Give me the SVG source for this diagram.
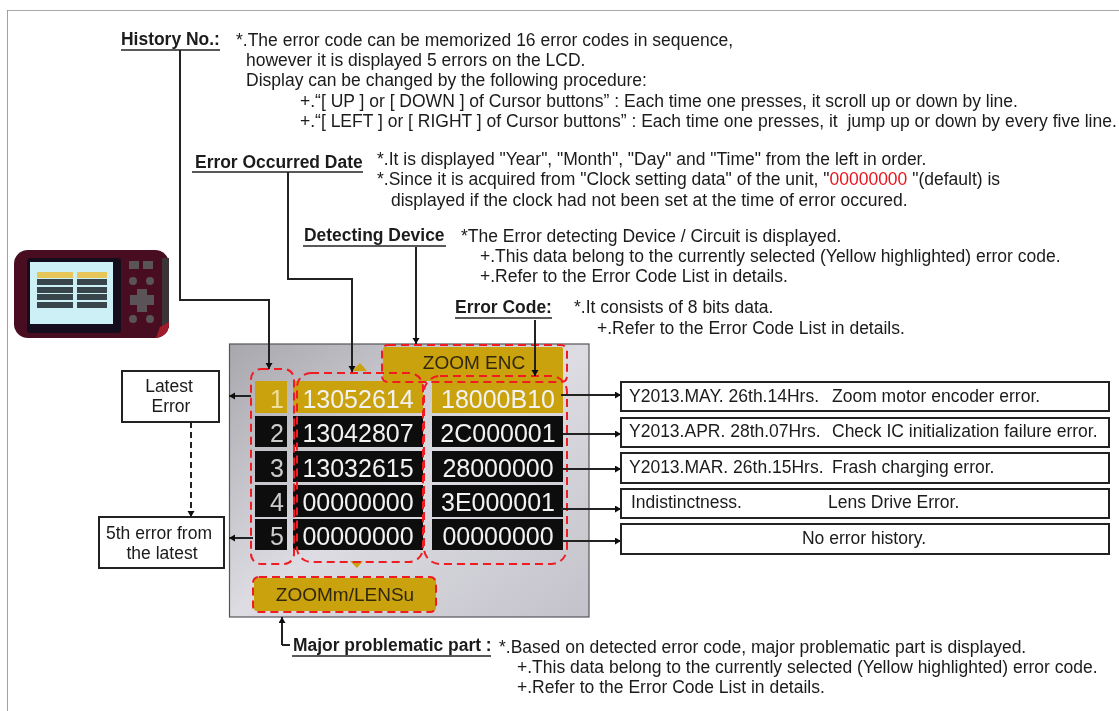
<svg xmlns="http://www.w3.org/2000/svg" width="1119" height="711" viewBox="0 0 1119 711">
<style>
text{font-family:"Liberation Sans",Arial,sans-serif;fill:#1a1a1a;white-space:pre}
.d{font-size:17.5px}
.h{font-size:17.45px;font-weight:bold}
.u{stroke:#222;stroke-width:1.6;fill:none}
.c{stroke:#222;stroke-width:2;fill:none}
.ca{stroke:#222;stroke-width:2;fill:none;marker-end:url(#ah)}
.b{fill:#fff;stroke:#222;stroke-width:2}
.bt{font-size:17.5px}
.cell{fill:#111}
.gold{fill:#c9a20f}
.n{font-size:25px;fill:#f2f2f2;text-anchor:middle}
.r{fill:none;stroke:#f01c24;stroke-width:2;stroke-dasharray:8 5}
.g{font-size:19px;fill:#33280a;text-anchor:middle}
.btn{fill:#5a5258}
</style>
<defs>
<marker id="ah" markerUnits="userSpaceOnUse" markerWidth="9" markerHeight="9" refX="6" refY="3.5" orient="auto"><path d="M0 0L6 3.5L0 7Z" fill="#111"/></marker>
<linearGradient id="panel" x1="0" y1="0" x2="1" y2="1"><stop offset="0" stop-color="#a9a7ae"/><stop offset=".5" stop-color="#dcdce2"/><stop offset="1" stop-color="#c3c2ca"/></linearGradient>
<filter id="soft" x="0" y="0" width="100%" height="100%"><feGaussianBlur stdDeviation="0.4"/></filter>
<filter id="softer" x="-5%" y="-5%" width="110%" height="110%"><feGaussianBlur stdDeviation="0.7"/></filter>
</defs>
<rect width="1119" height="711" fill="#fff"/>
<g filter="url(#soft)">
<path d="M7 711V10H1119" fill="none" stroke="#8a8a8a" stroke-width="1.6"/>

<g id="camera" filter="url(#softer)">
<rect x="14" y="250" width="155" height="88" rx="14" fill="#4a1020"/>
<rect x="162" y="258" width="7" height="70" fill="#3a3438"/>
<path d="M169 322L169 326Q168 336 156 338L160 327Z" fill="#a01c2c"/>
<rect x="27" y="258" width="94" height="75" rx="3" fill="#16101a"/>
<rect x="30" y="262" width="83" height="62" fill="#cdeff6"/>
<rect x="37" y="272" width="36" height="6" fill="#e6c65a"/><rect x="77" y="272" width="30" height="6" fill="#e6c65a"/>
<g fill="#39444c"><rect x="37" y="279" width="36" height="6"/><rect x="77" y="279" width="30" height="6"/><rect x="37" y="287" width="36" height="6"/><rect x="77" y="287" width="30" height="6"/><rect x="37" y="294" width="36" height="6"/><rect x="77" y="294" width="30" height="6"/><rect x="37" y="302" width="36" height="6"/><rect x="77" y="302" width="30" height="6"/></g>
<rect class="btn" x="129" y="261" width="10" height="8"/><rect class="btn" x="143" y="261" width="10" height="8"/>
<circle class="btn" cx="133" cy="281" r="4"/><circle class="btn" cx="150" cy="281" r="4"/>
<path class="btn" d="M130 295h7v-6h10v6h7v10h-7v7h-10v-7h-7z"/>
<circle class="btn" cx="133" cy="319" r="4"/><circle class="btn" cx="150" cy="319" r="4"/>
</g>

<g id="screen">
<rect x="229.5" y="344" width="359.5" height="273" fill="url(#panel)" stroke="#55555a" stroke-width="1.2"/>
<rect class="gold" x="383" y="347" width="180" height="34" rx="2"/>
<text class="g" x="474" y="369">ZOOM ENC</text>
<path class="gold" d="M352 371L360 363L367 371Z"/>
<path class="gold" d="M350 561H363L357 568Z"/>
<rect class="gold" x="254" y="578" width="182" height="33" rx="3"/>
<text class="g" x="345" y="601">ZOOMm/LENSu</text>
<rect class="gold" x="255" y="381" width="32" height="32"/>
<rect class="gold" x="293" y="381" width="130" height="32"/>
<rect class="gold" x="432" y="381" width="131" height="32"/>
<g class="cell">
<rect x="255" y="416" width="32" height="31"/><rect x="293" y="416" width="130" height="31"/><rect x="432" y="416" width="131" height="31"/>
<rect x="255" y="451" width="32" height="31"/><rect x="293" y="451" width="130" height="31"/><rect x="432" y="451" width="131" height="31"/>
<rect x="255" y="485" width="32" height="32"/><rect x="293" y="485" width="130" height="32"/><rect x="432" y="485" width="131" height="32"/>
<rect x="255" y="519" width="32" height="31"/><rect x="293" y="519" width="130" height="31"/><rect x="432" y="519" width="131" height="31"/>
</g>
<text class="n" x="277" y="408" style="fill:#f0e0a0">1</text><text class="n" x="358" y="408">13052614</text><text class="n" x="498" y="408">18000B10</text>
<text class="n" x="277" y="442" style="fill:#ccc">2</text><text class="n" x="358" y="442">13042807</text><text class="n" x="498" y="442">2C000001</text>
<text class="n" x="277" y="477" style="fill:#ccc">3</text><text class="n" x="358" y="477">13032615</text><text class="n" x="498" y="477">28000000</text>
<text class="n" x="277" y="511" style="fill:#ccc">4</text><text class="n" x="358" y="511">00000000</text><text class="n" x="498" y="511">3E000001</text>
<text class="n" x="277" y="545" style="fill:#ccc">5</text><text class="n" x="358" y="545">00000000</text><text class="n" x="498" y="545">00000000</text>
<rect class="r" x="251" y="369" width="43" height="195" rx="10"/>
<rect class="r" x="297" y="373" width="126" height="189" rx="14"/>
<rect class="r" x="424" y="376" width="143" height="188" rx="16"/>
<rect class="r" x="382" y="345" width="185" height="37" rx="6"/>
<rect class="r" x="253" y="577" width="183" height="35" rx="6"/>
</g>

<g id="connectors">
<path class="ca" d="M180 50V300H269V369"/>
<path class="ca" d="M288 172V279H352V372"/>
<path class="ca" d="M416 247V344"/>
<path class="ca" d="M535 320V376"/>
<path class="ca" d="M251 396H229"/>
<path class="ca" d="M253 538H229"/>
<path class="ca" d="M191 422V517" stroke-dasharray="6 4"/>
<path class="ca" d="M561 395H621"/>
<path class="ca" d="M563 434H621"/>
<path class="ca" d="M563 469H621"/>
<path class="ca" d="M561 509H621"/>
<path class="ca" d="M562 541H621"/>
<path class="ca" d="M282 645V617"/>
<path class="c" d="M282 645H290"/>
</g>

<g id="history-no">
<text class="h" x="121" y="45">History No.:</text><path class="u" d="M121 50H220"/>
<text class="d" x="236" y="46">*.The error code can be memorized 16 error codes in sequence,</text>
<text class="d" x="246" y="66">however it is displayed 5 errors on the LCD.</text>
<text class="d" x="246" y="86">Display can be changed by the following procedure:</text>
<text class="d" x="300" y="107">+.“[ UP ] or [ DOWN ] of Cursor buttons” : Each time one presses, it scroll up or down by line.</text>
<text class="d" x="300" y="127">+.“[ LEFT ] or [ RIGHT ] of Cursor buttons” : Each time one presses, it  jump up or down by every five line.</text>
</g>
<g id="error-occurred-date">
<text class="h" x="195" y="168">Error Occurred Date</text><path class="u" d="M192 172H363"/>
<text class="d" x="377" y="165">*.It is displayed "Year", "Month", "Day" and "Time" from the left in order.</text>
<text class="d" x="377" y="185">*.Since it is acquired from "Clock setting data" of the unit, "<tspan style="fill:#e8141c">00000000</tspan> "(default) is</text>
<text class="d" x="391" y="206">displayed if the clock had not been set at the time of error occured.</text>
</g>
<g id="detecting-device">
<text class="h" x="304" y="241">Detecting Device</text><path class="u" d="M303 246H446"/>
<text class="d" x="461" y="242">*The Error detecting Device / Circuit is displayed.</text>
<text class="d" x="480" y="262">+.This data belong to the currently selected (Yellow highlighted) error code.</text>
<text class="d" x="480" y="282">+.Refer to the Error Code List in details.</text>
</g>
<g id="error-code">
<text class="h" x="455" y="313">Error Code:</text><path class="u" d="M455 318H552"/>
<text class="d" x="574" y="313">*.It consists of 8 bits data.</text>
<text class="d" x="597" y="334">+.Refer to the Error Code List in details.</text>
</g>
<g id="major-part">
<text class="h" x="293" y="651">Major problematic part :</text><path class="u" d="M292 656H491"/>
<text class="d" x="499" y="653">*.Based on detected error code, major problematic part is displayed.</text>
<text class="d" x="517" y="673">+.This data belong to the currently selected (Yellow highlighted) error code.</text>
<text class="d" x="517" y="693">+.Refer to the Error Code List in details.</text>
</g>

<g id="latest-error"><rect class="b" x="122" y="371" width="97" height="51"/><text class="bt" x="169" y="392" text-anchor="middle">Latest</text><text class="bt" x="171" y="412" text-anchor="middle">Error</text></g>
<g id="fifth-error"><rect class="b" x="99" y="517" width="125" height="51"/><text class="bt" x="159" y="539" text-anchor="middle">5th error from</text><text class="bt" x="162" y="559" text-anchor="middle">the latest</text></g>

<g id="msg-1"><rect class="b" x="621" y="382" width="488" height="29"/><text class="bt" x="629" y="402">Y2013.MAY. 26th.14Hrs. <tspan x="832">Zoom motor encoder error.</tspan></text></g>
<g id="msg-2"><rect class="b" x="621" y="418" width="488" height="29"/><text class="bt" x="629" y="437">Y2013.APR. 28th.07Hrs. <tspan x="832">Check IC initialization failure error.</tspan></text></g>
<g id="msg-3"><rect class="b" x="621" y="453" width="488" height="30"/><text class="bt" x="629" y="473">Y2013.MAR. 26th.15Hrs. <tspan x="832">Frash charging error.</tspan></text></g>
<g id="msg-4"><rect class="b" x="621" y="489" width="488" height="29"/><text class="bt" x="631" y="508">Indistinctness.</text><text class="bt" x="828" y="508">Lens Drive Error.</text></g>
<g id="msg-5"><rect class="b" x="621" y="524" width="488" height="30"/><text class="bt" x="864" y="544" text-anchor="middle">No error history.</text></g>
</g>
</svg>
